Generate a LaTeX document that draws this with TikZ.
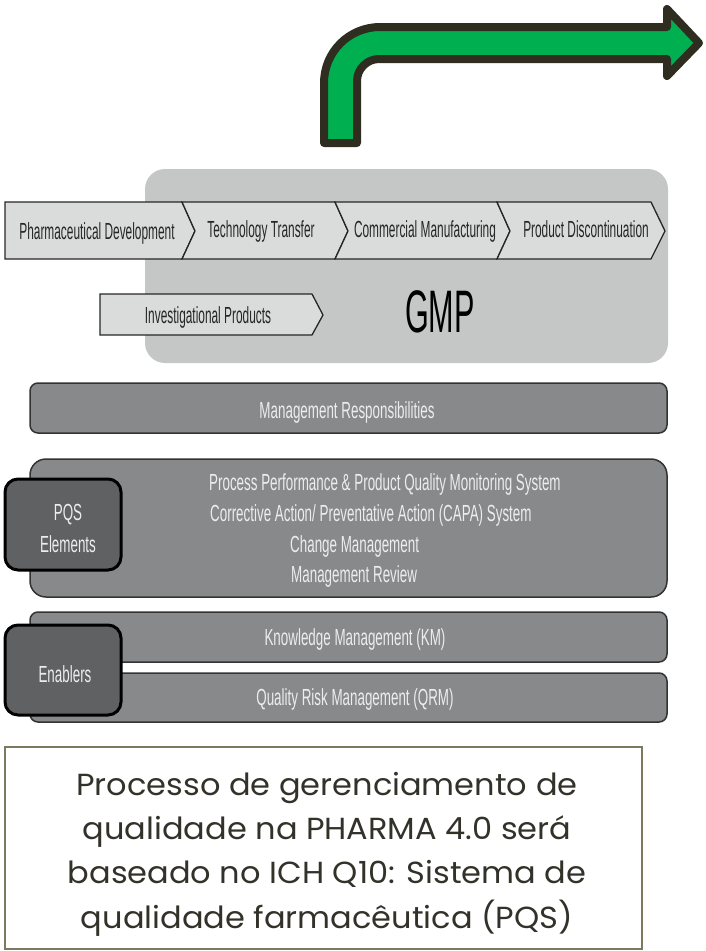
\documentclass[tikz,border=0pt]{standalone}
\usepackage{fontspec}
\setmainfont{Liberation Sans}
\newfontfamily\chevfont[FakeStretch=0.51]{Liberation Sans}
\newfontfamily\barfont[FakeStretch=0.575]{Liberation Sans}
\newfontfamily\notefont[FakeStretch=1.05]{Poppins}
\definecolor{arrowgreen}{HTML}{00AF50}
\definecolor{arrowline}{HTML}{2F2C20}
\definecolor{gmpgray}{HTML}{C5C6C6}
\definecolor{chevgray}{HTML}{DADBDB}
\definecolor{bargray}{HTML}{87898B}
\definecolor{tabgray}{HTML}{5F6163}
\definecolor{noteline}{HTML}{7B7A5E}
\definecolor{notetext}{HTML}{33322A}
\begin{document}
\begin{tikzpicture}[x=1pt,y=-1pt,
	chevron/.style={fill=chevgray,draw=black!85,line width=1.3pt,line join=miter},
	bar/.style={fill=bargray,draw=black!80,line width=1.5pt,rounded corners=8pt},
	tab/.style={fill=tabgray,draw=black,line width=3pt,rounded corners=13pt},
	chevtext/.style={inner sep=0pt,anchor=base,text=black!85,font=\chevfont\fontsize{23.3}{28}\selectfont},
	bartext/.style={inner sep=0pt,anchor=base,text=white!93!black,font=\barfont\fontsize{23.3}{28}\selectfont}]
	\useasboundingbox (0,0) rectangle (705,951);
	\draw[fill=arrowgreen,draw=arrowline,line width=8pt,line join=round] (324,143) -- (324,83) .. controls (324,52) and (349,27) .. (380,27) -- (667,27) -- (667,9) -- (699,43) -- (667,76) -- (667,59) -- (379,59) .. controls (367,59) and (357,69) .. (357,81) -- (357,143) -- cycle;
	\fill[gmpgray,rounded corners=20pt] (145,169) rectangle (668,363);
	\draw[chevron] (5,202) -- (182,202) -- (195,231) -- (182,259) -- (5,259) -- cycle;
	\draw[chevron] (182,202) -- (335,202) -- (348,231) -- (335,259) -- (182,259) -- (195,231) -- cycle;
	\draw[chevron] (335,202) -- (497,202) -- (510,231) -- (497,259) -- (335,259) -- (348,231) -- cycle;
	\draw[chevron] (497,202) -- (651,202) -- (665,231) -- (651,259) -- (497,259) -- (510,231) -- cycle;
	\draw[chevron] (100,294) -- (312,294) -- (323,315) -- (312,335) -- (100,335) -- cycle;
	\node[chevtext] (pharmdev) at (97,239) {Pharmaceutical Development};
	\node[chevtext] (techtransfer) at (261,237) {Technology Transfer};
	\node[chevtext] (commercial) at (425,237) {Commercial Manufacturing};
	\node[chevtext] (discont) at (586,237) {Product Discontinuation};
	\node[chevtext] (investig) at (208,323) {Investigational Products};
	\node[chevtext,text=black,font=\chevfont\fontsize{60}{70}\selectfont] (gmp) at (440,332) {GMP};
	\draw[bar] (30,383) rectangle (667,433);
	\node[bartext] (mgmtresp) at (347,418) {Management Responsibilities};
	\draw[bar,rounded corners=16pt] (30,459) rectangle (667,597);
	\node[bartext,anchor=base west] (ppqm) at (209,490) {Process Performance \& Product Quality Monitoring System};
	\node[bartext,anchor=base west] (capa) at (210,521) {Corrective Action/ Preventative Action (CAPA) System};
	\node[bartext,anchor=base west] (change) at (290,552) {Change Management};
	\node[bartext,anchor=base west] (review) at (291,582) {Management Review};
	\draw[tab] (5,479) rectangle (121,570);
	\node[bartext] (pqs) at (68,520) {PQS};
	\node[bartext] (elements) at (68,552) {Elements};
	\draw[bar] (30,612) rectangle (667,662);
	\node[bartext] (km) at (355,645) {Knowledge Management (KM)};
	\draw[bar] (30,673) rectangle (667,722);
	\node[bartext] (qrm) at (355,705) {Quality Risk Management (QRM)};
	\draw[tab] (5,625) rectangle (121,715);
	\node[bartext] (enablers) at (65,682) {Enablers};
	\draw[draw=noteline,line width=2pt] (5,747) rectangle (642,949);
	\node[align=center,inner sep=0pt,anchor=base,text=notetext,font=\notefont\fontsize{30.5}{44.3}\selectfont] (note) at (327,928) {Processo de gerenciamento de\\qualidade na PHARMA 4.0 será\\baseado no ICH Q10: Sistema de\\qualidade farmacêutica (PQS)};
\end{tikzpicture}
\end{document}
